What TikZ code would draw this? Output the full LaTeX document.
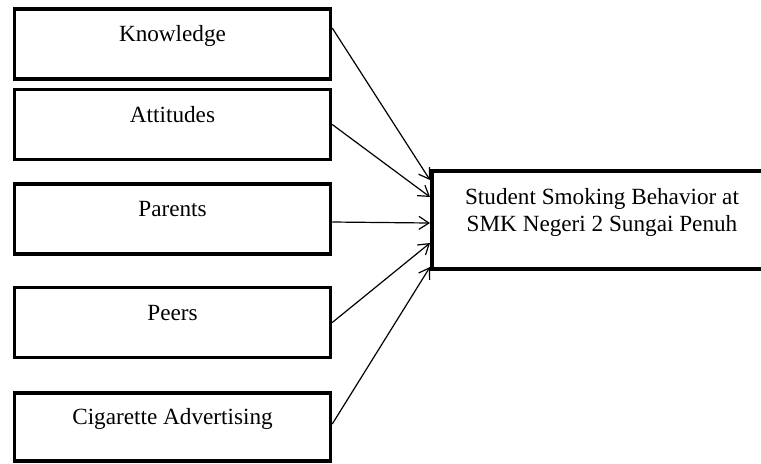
\documentclass[tikz,border=0pt]{standalone}
\usepackage{fontspec}
\setmainfont{Liberation Serif}
\usepackage{tikz}
\usetikzlibrary{arrows.meta}

\begin{document}
\begin{tikzpicture}[
            x=0.5pt, y=-0.5pt,
            font=\fontsize{11.6}{13.5}\selectfont,
            factor/.style={draw, line width=1.75pt, minimum width=158pt,
                minimum height=35pt, text height=8pt, text depth=10.5pt,
                inner sep=0pt},
            result/.style={draw, line width=2pt, minimum width=170pt,
                minimum height=49pt, align=center, anchor=west},
            link/.style={-{Straight Barb[length=5pt, width=6.5pt]}, line width=0.6pt}
        ]
            % Marco
            \useasboundingbox (0,0) rectangle (761,463);

            % Factores
            \node[factor] (know) at (172.5,44) {Knowledge};
            \node[factor] (att) at (172.5,124.5) {Attitudes};
            \node[factor] (par) at (172.5,219) {Parents};
            \node[factor] (peer) at (172.5,322.5) {Peers};
            \node[factor, minimum height=34pt] (adv) at (172.5,427) {Cigarette Advertising};

            % Conducta
            \node[result] (smoke) at (430,220)
                {Student Smoking Behavior at\\SMK Negeri 2 Sungai Penuh\\[-3.5pt]\mbox{}};

            % Flechas
            \draw[link] ([yshift=8pt]know.east) -- ([yshift=20pt]smoke.west);
            \draw[link] (att.east) -- ([yshift=11.5pt]smoke.west);
            \draw[link] ([yshift=-1.5pt]par.east) -- ([yshift=-1.5pt]smoke.west);
            \draw[link] (peer.east) -- ([yshift=-11.5pt]smoke.west);
            \draw[link] ([yshift=1.5pt]adv.east) -- ([yshift=-23.5pt]smoke.west);

        \end{tikzpicture}
\end{document}
